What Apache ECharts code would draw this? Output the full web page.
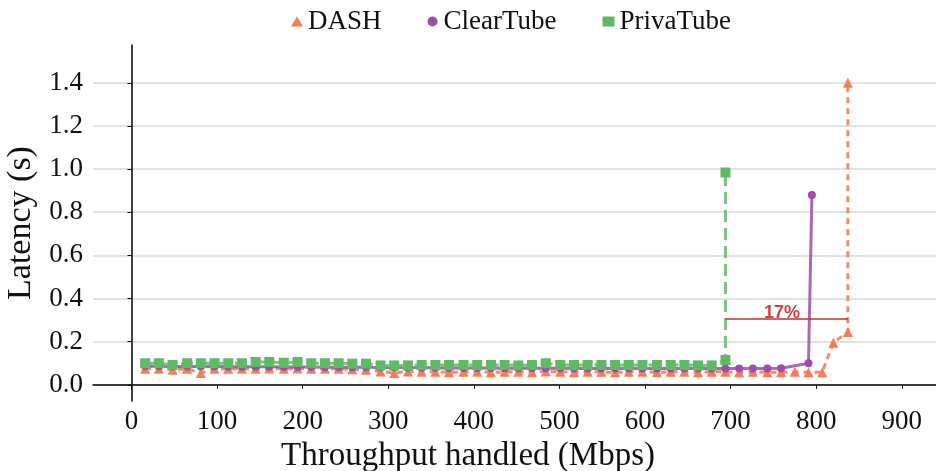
<!DOCTYPE html>
<html>
<head>
<meta charset="utf-8">
<script src="https://cdn.jsdelivr.net/npm/echarts@6/dist/echarts.min.js"></script>
<style>
  html, body { margin: 0; padding: 0; background: #fff; }
  #chart { width: 936px; height: 471px; }
</style>
</head>
<body>
<div id="chart"></div>
<script>
// throughput handled (Mbps), shared by the flat part of all three curves
const throughput = [16, 32, 48, 65, 81, 97, 113, 129, 145, 161, 178, 194, 210, 226, 242, 258, 274, 291, 307, 323,
  339, 355, 371, 388, 404, 420, 436, 452, 468, 484, 501, 517, 533, 549, 565, 581, 597, 614, 630, 646,
  662, 678, 694, 710, 726, 743, 759, 775, 791, 807];

// latency (s)
const dashLatency = [0.074, 0.074, 0.070, 0.074, 0.055, 0.074, 0.074, 0.074, 0.074, 0.076, 0.074, 0.076, 0.074, 0.074, 0.074, 0.072, 0.070, 0.062, 0.055, 0.062,
  0.060, 0.060, 0.058, 0.060, 0.060, 0.058, 0.060, 0.060, 0.058, 0.062, 0.060, 0.058, 0.060, 0.060, 0.058, 0.060, 0.060, 0.058, 0.060, 0.060,
  0.058, 0.060, 0.060, 0.058, 0.060, 0.058, 0.058, 0.060, 0.058, 0.058];
const dashTail = [[820, 0.195], [837, 0.245], [837, 1.40]];

const clearLatency = [0.086, 0.086, 0.085, 0.085, 0.085, 0.085, 0.084, 0.084, 0.084, 0.084, 0.083, 0.083, 0.083, 0.082, 0.082, 0.082, 0.081, 0.080, 0.080, 0.080,
  0.079, 0.079, 0.078, 0.078, 0.078, 0.078, 0.077, 0.077, 0.077, 0.077, 0.077, 0.076, 0.076, 0.076, 0.076, 0.076, 0.076, 0.076, 0.076, 0.076,
  0.076, 0.076, 0.076, 0.076, 0.076, 0.076, 0.077, null, 0.100];
const clearTail = [[795, 0.88]];

const privaLatency = [0.100, 0.100, 0.092, 0.100, 0.100, 0.100, 0.100, 0.100, 0.106, 0.106, 0.102, 0.106, 0.100, 0.100, 0.100, 0.098, 0.098, 0.090, 0.090, 0.090,
  0.092, 0.092, 0.092, 0.092, 0.092, 0.092, 0.092, 0.090, 0.092, 0.100, 0.092, 0.092, 0.092, 0.092, 0.092, 0.092, 0.092, 0.092, 0.092, 0.092,
  0.090, 0.090, 0.115];
const privaTail = [[694, 0.984]];

// 17% gap annotation
const gapLine = [[694, 0.305], [837, 0.305]];
const gapLabelAt = [760, 0.305];
const gapLabel = '17%';

const xTicks = [0, 100, 200, 300, 400, 500, 600, 700, 800, 900];
const yTicks = [0, 0.2, 0.4, 0.6, 0.8, 1.0, 1.2, 1.4];

const pairs = (ys) => ys.map((y, i) => [throughput[i], y]).filter(p => p[1] !== null);

const chart = echarts.init(document.getElementById('chart'));

const serif = 'Liberation Serif';

chart.setOption({
  animation: false,
  legend: {
    top: 3,
    left: 286,
    itemGap: 46,
    itemWidth: 12,
    itemHeight: 10,
    textStyle: { fontFamily: serif, fontSize: 27, color: '#111' },
    data: [
      { name: 'DASH', icon: 'triangle' },
      { name: 'ClearTube', icon: 'circle' },
      { name: 'PrivaTube', icon: 'rect' }
    ]
  },
  grid: { left: 93, right: 0, top: 45, bottom: 70, outerBoundsMode: 'none', containLabel: false },
  xAxis: {
    type: 'value',
    min: -45,
    max: 940,
    interval: 5,
    name: 'Throughput handled (Mbps)',
    nameLocation: 'middle',
    nameGap: 37,
    nameTextStyle: { fontFamily: serif, fontSize: 33, color: '#111', padding: [0, 93, 0, 0] },
    axisLine: { lineStyle: { color: '#000', width: 1.5 } },
    axisTick: { customValues: xTicks, length: 4, lineStyle: { color: '#000' } },
    axisLabel: { customValues: xTicks, fontFamily: serif, fontSize: 27, color: '#111', margin: 7 },
    splitLine: { show: false }
  },
  yAxis: {
    type: 'value',
    min: -0.075,
    max: 1.575,
    interval: 0.025,
    name: 'Latency (s)',
    nameLocation: 'middle',
    nameGap: 46,
    nameTextStyle: { fontFamily: serif, fontSize: 34, color: '#111' },
    axisLine: { show: true, lineStyle: { color: '#000', width: 1.5 } },
    axisTick: { show: true, customValues: yTicks, length: 4, lineStyle: { color: '#000' } },
    axisLabel: {
      customValues: yTicks, fontFamily: serif, fontSize: 27, color: '#111', margin: 10,
      formatter: v => v.toFixed(1)
    },
    splitLine: { show: true, lineStyle: { color: '#d9d9d9', width: 1.5 } }
  },
  series: [
    {
      name: 'DASH',
      type: 'line',
      data: pairs(dashLatency).concat(dashTail),
      symbol: 'triangle',
      symbolSize: 10,
      itemStyle: { color: '#F47E55' },
      lineStyle: { color: '#F47E55', width: 3, type: [6, 5], opacity: 0.9 },
      z: 2
    },
    {
      name: 'ClearTube',
      type: 'line',
      data: pairs(clearLatency).concat(clearTail),
      symbol: 'circle',
      symbolSize: 8,
      itemStyle: { color: '#9E4DA8' },
      lineStyle: { color: '#9E4DA8', width: 3, opacity: 0.85 },
      z: 3
    },
    {
      name: 'PrivaTube',
      type: 'line',
      data: pairs(privaLatency).concat(privaTail),
      symbol: 'rect',
      symbolSize: 10,
      itemStyle: { color: '#5FBA66' },
      lineStyle: { color: '#6CC070', width: 3, type: [12, 6], opacity: 0.9 },
      z: 4
    },
    {
      name: 'gap',
      type: 'line',
      data: gapLine,
      symbol: 'none',
      silent: true,
      lineStyle: { color: '#D42A2A', width: 1.5 },
      z: 5
    },
    {
      name: 'gapLabel',
      type: 'scatter',
      data: [gapLabelAt],
      symbolSize: 0,
      silent: true,
      label: {
        show: true,
        position: 'top',
        distance: 0,
        offset: [0, 3],
        formatter: gapLabel,
        fontFamily: 'Liberation Sans',
        fontWeight: 'bold',
        fontSize: 18,
        color: '#C40F0F'
      },
      z: 6
    }
  ]
});
</script>
</body>
</html>
